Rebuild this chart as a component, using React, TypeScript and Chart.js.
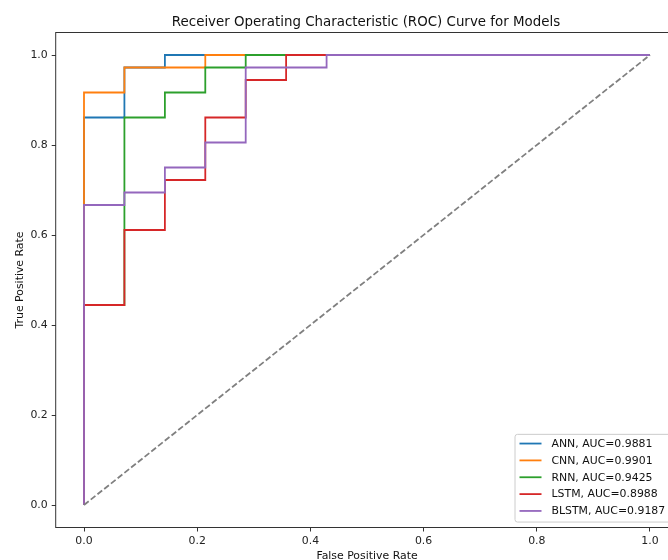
import React, { useEffect, useRef } from "react";
import { Chart, registerables } from "chart.js";

Chart.register(...registerables);

const modelNames = ["ANN", "CNN", "RNN", "LSTM", "BLSTM"];
const aucValues = ["0.9881", "0.9901", "0.9425", "0.8988", "0.9187"];
const colors = ["#1f77b4", "#ff7f0e", "#2ca02c", "#d62728", "#9467bd"];

const annFpr = [0, 0, 0.0714, 0.0714, 0.1429, 0.1429, 1];
const annTpr = [0, 0.8611, 0.8611, 0.9722, 0.9722, 1, 1];

const cnnFpr = [0, 0, 0.0714, 0.0714, 0.2143, 0.2143, 1];
const cnnTpr = [0, 0.9167, 0.9167, 0.9722, 0.9722, 1, 1];

const rnnFpr = [0, 0, 0.0714, 0.0714, 0.1429, 0.1429, 0.2143, 0.2143, 0.2857, 0.2857, 1];
const rnnTpr = [0, 0.4444, 0.4444, 0.8611, 0.8611, 0.9167, 0.9167, 0.9722, 0.9722, 1, 1];

const lstmFpr = [0, 0, 0.0714, 0.0714, 0.1429, 0.1429, 0.2143, 0.2143, 0.2857, 0.2857, 0.3571, 0.3571, 1];
const lstmTpr = [0, 0.4444, 0.4444, 0.6111, 0.6111, 0.7222, 0.7222, 0.8611, 0.8611, 0.9444, 0.9444, 1, 1];

const blstmFpr = [0, 0, 0.0714, 0.0714, 0.1429, 0.1429, 0.2143, 0.2143, 0.2857, 0.2857, 0.4286, 0.4286, 1];
const blstmTpr = [0, 0.6667, 0.6667, 0.6944, 0.6944, 0.75, 0.75, 0.8056, 0.8056, 0.9722, 0.9722, 1, 1];

const chanceFpr = [0, 1];
const chanceTpr = [0, 1];

const tickValues = [0, 0.2, 0.4, 0.6, 0.8, 1.0];

const titleText = "Receiver Operating Characteristic (ROC) Curve for Models";
const xLabel = "False Positive Rate";
const yLabel = "True Positive Rate";

const FONT = "'DejaVu Sans', 'Liberation Sans', sans-serif";

const fprs = [annFpr, cnnFpr, rnnFpr, lstmFpr, blstmFpr];
const tprs = [annTpr, cnnTpr, rnnTpr, lstmTpr, blstmTpr];

function toPoints(xs: number[], ys: number[]) {
  return xs.map((x, i) => ({ x, y: ys[i] }));
}

const decorPlugin = {
  id: "decor",
  afterDraw(chart: any) {
    const { ctx, chartArea } = chart;
    const { left, right, top, bottom } = chartArea;
    ctx.save();
    // frame
    ctx.strokeStyle = "#333";
    ctx.lineWidth = 1;
    ctx.strokeRect(left, top, right - left, bottom - top);

    // title
    ctx.fillStyle = "#111";
    ctx.font = `13.4px ${FONT}`;
    ctx.textAlign = "center";
    ctx.textBaseline = "alphabetic";
    ctx.fillText(titleText, (left + right) / 2 - 1, top - 6.8);

    // x label
    ctx.font = `10.9px ${FONT}`;
    ctx.fillText(xLabel, (left + right) / 2, 559.3);

    // y label
    ctx.save();
    ctx.translate(23.0, (top + bottom) / 2);
    ctx.rotate(-Math.PI / 2);
    ctx.fillText(yLabel, 0, 0);
    ctx.restore();

    // legend
    const ds = chart.data.datasets.filter((d: any) => d.inLegend);
    const boxRight = right - 5.45;
    const boxBottom = bottom - 5.45;
    const boxLeft = 515;
    const rowH = 16.85;
    const boxTop = boxBottom - 87.7;
    const r = 2.5;
    ctx.beginPath();
    ctx.moveTo(boxLeft + r, boxTop);
    ctx.lineTo(boxRight - r, boxTop);
    ctx.quadraticCurveTo(boxRight, boxTop, boxRight, boxTop + r);
    ctx.lineTo(boxRight, boxBottom - r);
    ctx.quadraticCurveTo(boxRight, boxBottom, boxRight - r, boxBottom);
    ctx.lineTo(boxLeft + r, boxBottom);
    ctx.quadraticCurveTo(boxLeft, boxBottom, boxLeft, boxBottom - r);
    ctx.lineTo(boxLeft, boxTop + r);
    ctx.quadraticCurveTo(boxLeft, boxTop, boxLeft + r, boxTop);
    ctx.closePath();
    ctx.fillStyle = "rgba(255,255,255,0.8)";
    ctx.fill();
    ctx.strokeStyle = "#cccccc";
    ctx.lineWidth = 1;
    ctx.stroke();

    ctx.textAlign = "left";
    ctx.textBaseline = "middle";
    ctx.font = `10.9px ${FONT}`;
    ds.forEach((d: any, i: number) => {
      const cy = boxTop + 9.2 + i * rowH;
      ctx.strokeStyle = d.borderColor;
      ctx.lineWidth = 1.8;
      ctx.setLineDash([]);
      ctx.beginPath();
      ctx.moveTo(519.5, cy);
      ctx.lineTo(541.5, cy);
      ctx.stroke();
      ctx.fillStyle = "#111";
      ctx.fillText(d.label, 551.5, cy + 0.5);
    });
    ctx.restore();
  },
};

export default function App() {
  const canvasRef = useRef<HTMLCanvasElement | null>(null);

  useEffect(() => {
    const canvas = canvasRef.current;
    if (!canvas) return;

    const datasets: any[] = modelNames.map((name, i) => ({
      label: `${name}, AUC=${aucValues[i]}`,
      data: toPoints(fprs[i], tprs[i]),
      borderColor: colors[i],
      backgroundColor: colors[i],
      borderWidth: 1.8,
      pointRadius: 0,
      showLine: true,
      fill: false,
      tension: 0,
      order: 10 - i,
      inLegend: true,
    }));
    datasets.push({
      label: "chance",
      data: toPoints(chanceFpr, chanceTpr),
      borderColor: "#808080",
      backgroundColor: "#808080",
      borderWidth: 1.8,
      borderDash: [6, 2.6],
      pointRadius: 0,
      showLine: true,
      fill: false,
      order: 0,
      inLegend: false,
    });

    const tickFont = { family: FONT, size: 10.9 };

    const chart = new Chart(canvas, {
      type: "scatter",
      data: { datasets },
      options: {
        responsive: false,
        animation: false,
        devicePixelRatio: 1,
        layout: { padding: { left: 0, top: 32.5, right: 720 - 678.3, bottom: 0 } },
        plugins: {
          legend: { display: false },
          title: { display: false },
          tooltip: { enabled: false },
        },
        scales: {
          x: {
            type: "linear",
            min: -0.05,
            max: 1.05,
            afterBuildTicks: (scale: any) => {
              scale.ticks = tickValues.map((v) => ({ value: v }));
            },
            afterFit: (scale: any) => {
              scale.height = 560 - 527.5;
            },
            ticks: {
              font: tickFont,
              color: "#222",
              padding: 3.2,
              maxRotation: 0,
              autoSkip: false,
              callback: (v: any) => Number(v).toFixed(1),
            },
            grid: {
              drawOnChartArea: false,
              drawTicks: true,
              tickLength: 4,
              tickWidth: 1,
              tickColor: "#333",
            },
            border: { display: false },
          },
          y: {
            type: "linear",
            min: -0.05,
            max: 1.05,
            afterBuildTicks: (scale: any) => {
              scale.ticks = tickValues.map((v) => ({ value: v }));
            },
            afterFit: (scale: any) => {
              scale.width = 55.7;
            },
            ticks: {
              font: tickFont,
              color: "#222",
              padding: 4,
              autoSkip: false,
              callback: (v: any) => Number(v).toFixed(1),
            },
            grid: {
              drawOnChartArea: false,
              drawTicks: true,
              tickLength: 4,
              tickWidth: 1,
              tickColor: "#333",
            },
            border: { display: false },
          },
        },
      } as any,
      plugins: [decorPlugin],
    });

    return () => chart.destroy();
  }, []);

  return (
    <div
      style={{
        position: "fixed",
        left: 0,
        top: 0,
        width: 668,
        height: 560,
        overflow: "hidden",
        background: "#fff",
      }}
    >
      <canvas ref={canvasRef} width={720} height={560} style={{ display: "block" }} />
    </div>
  );
}
